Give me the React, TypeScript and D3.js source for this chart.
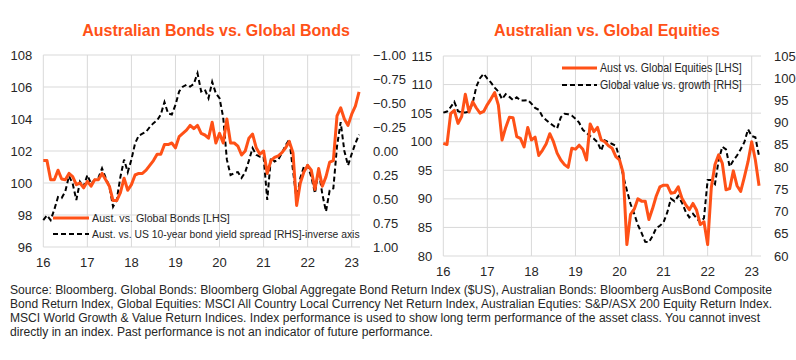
import React, { useLayoutEffect, useRef, useState } from 'react';
import * as d3 from 'd3';

// month index 0 = Jan 2016, last point = Mar 2023
const yearLabels = ['16', '17', '18', '19', '20', '21', '22', '23'];

const ausVsGlobalBonds = [
    101.4, 101.4, 100.2, 100.2, 100.8, 100.25, 100.2, 100.6, 100.4, 99.9, 100.0, 99.7,
    100.1, 99.8, 100.2, 100.2, 100.6, 100.2, 99.8, 98.9, 98.9, 99.4, 100.3, 99.55,
    99.9, 100.5, 100.6, 100.6, 100.8, 101.1, 101.4, 101.8, 101.8, 102.4, 102.4, 102.5,
    102.2, 102.9, 103.1, 103.3, 103.6, 103.4, 103.6, 103.1, 103.0, 102.8, 103.8, 102.5,
    103.1, 102.5, 104.0, 102.5, 102.5, 102.3, 101.75, 102.0, 102.8, 103.06, 102.2, 101.8,
    102.0, 100.6, 101.4, 101.6, 101.7, 101.9, 102.2, 102.6, 101.9, 98.6, 100.0, 100.7,
    101.1, 100.8, 99.6, 100.9, 99.8, 100.4, 101.3, 101.4, 104.2, 104.7, 104.0, 103.6,
    104.3, 104.8, 105.7,
];

// RHS, inverse axis
const yieldSpread = [
    0.72, 0.67, 0.72, 0.61, 0.48, 0.49, 0.42, 0.26, 0.34, 0.51, 0.32, 0.37,
    0.25, 0.34, 0.30, 0.28, 0.18, 0.28, 0.37, 0.58, 0.51, 0.27, 0.09, 0.22,
    0.09, -0.08, -0.16, -0.18, -0.20, -0.25, -0.29, -0.32, -0.38, -0.51, -0.39, -0.38,
    -0.48, -0.62, -0.67, -0.69, -0.67, -0.70, -0.81, -0.62, -0.64, -0.55, -0.72, -0.60,
    -0.55, -0.35, 0.09, 0.25, 0.23, 0.22, 0.28, 0.22, 0.10, -0.03, 0.04, 0.06,
    0.06, 0.51, 0.07, 0.11, 0.09, 0.02, -0.06, -0.12, 0.20, 0.51, 0.28, 0.16,
    0.15, 0.27, 0.44, 0.20, 0.45, 0.63, 0.41, 0.39, -0.05, -0.30, 0.0, 0.15,
    0.03, -0.08, -0.17,
];

const ausVsGlobalEquities = [
    99.7, 99.5, 104.9, 105.5, 103.2, 104.4, 108.3, 105.2, 107.0, 105.9, 105.0, 105.3,
    106.5, 107.5, 108.6, 106.4, 100.3, 102.5, 104.3, 104.2, 100.9, 100.6, 99.1, 102.5,
    100.3, 100.8, 97.6, 98.5, 99.6, 101.4, 100.0, 98.0, 96.8, 96.0, 95.5, 98.85,
    98.7, 99.4, 98.7, 96.8, 103.1, 101.75, 102.5, 100.3, 100.0, 99.3, 98.85, 97.4,
    96.8, 94.5, 82.0, 87.3, 88.2, 90.0, 89.6, 89.6, 86.4, 88.3, 90.5, 92.1,
    92.4, 92.4, 91.0, 91.1, 92.1, 90.1, 89.0, 88.1, 89.2, 88.0, 85.5, 86.0,
    82.0, 92.0, 96.0, 97.7, 96.2, 91.6, 91.8, 94.9, 92.3, 91.3, 93.8, 96.5,
    100.0, 96.8, 92.3,
];

const valueVsGrowth = [
    92.25, 92.5, 93.5, 94.7, 92.6, 92.3, 92.3, 92.5, 94.4, 98.1, 100.0, 101.0,
    99.9, 99.0, 97.9, 97.0, 95.3, 96.4, 95.8, 95.1, 95.7, 95.0, 95.0, 95.1,
    94.3, 93.3, 92.9, 91.4, 90.6, 89.9, 89.3, 88.7, 91.2, 92.0, 91.9, 91.6,
    90.9, 90.0, 88.4, 87.7, 87.0, 86.4, 85.6, 83.7, 86.0, 85.6, 85.2, 84.8,
    82.0, 78.0, 74.8, 71.7, 69.5, 67.0, 65.2, 63.2, 63.1, 64.5, 66.3, 66.8,
    67.6, 69.8, 72.9, 72.3, 73.5, 72.0, 70.0, 68.7, 69.5, 68.5, 67.5, 68.5,
    77.1, 77.1, 76.2, 81.6, 84.6, 84.0, 80.1, 81.5, 82.6, 84.0, 85.6, 88.5,
    87.0, 86.7, 82.5,
];

const bondsLhsTicks = [96, 98, 100, 102, 104, 106, 108];
const bondsRhsTicks = [-1, -0.75, -0.5, -0.25, 0, 0.25, 0.5, 0.75, 1];
const equitiesLhsTicks = [80, 85, 90, 95, 100, 105, 110, 115];
const equitiesRhsTicks = [60, 65, 70, 75, 80, 85, 90, 95, 100, 105];

const footnote = [
    'Source: Bloomberg. Global Bonds: Bloomberg Global Aggregate Bond Return Index ($US), Australian Bonds: Bloomberg AusBond Composite',
    'Bond Return Index, Global Equities: MSCI All Country Local Currency Net Return Index, Australian Equties: S&P/ASX 200 Equity Return Index.',
    'MSCI World Growth & Value Return Indices. Index performance is used to show long term performance of the asset class. You cannot invest',
    'directly in an index. Past performance is not an indicator of future performance.',
];
const footnoteWidths = [762, 762, 750, 423];

const ORANGE = '#FF5117';
const GRID = '#D9D9D9';
const TEXT = '#262626';
const FONT = 'Arial, "Liberation Sans", sans-serif';

// text squeezed horizontally to a given width (narrow font look)
function FitText({ x, y, width, size, children }) {
    const ref = useRef(null);
    const [sx, setSx] = useState(1);
    useLayoutEffect(() => {
        const len = ref.current.getComputedTextLength();
        if (len > 0) setSx(width / len);
    }, [width, children]);
    return (
        <text ref={ref} transform={`translate(${x},${y}) scale(${sx},1)`} dy="0.35em"
            fontFamily={FONT} fontSize={size} fill={TEXT}>{children}</text>
    );
}

function Panel(props) {
    const {
        title, titleX, left, right, top, bottom, xLabelY,
        lhsDomain, rhsDomain, lhsTicks, rhsTicks, rhsFormat,
        lhs, rhs, legend,
    } = props;

    const x = d3.scaleLinear().domain([0, 84]).range([left, left + 308.4]);
    const yl = d3.scaleLinear().domain(lhsDomain).range([bottom, top]);
    const yr = d3.scaleLinear().domain(rhsDomain).range([bottom, top]);

    const lineL = d3.line<number>().x((d, i) => x(i)).y(d => yl(d));
    const lineR = d3.line<number>().x((d, i) => x(i)).y(d => yr(d));

    return (
        <g>
            <text x={titleX} y={36} textAnchor="middle" fontFamily={FONT}
                fontWeight="bold" fontSize={16} fill={ORANGE}>{title}</text>
            {lhsTicks.map(t => (
                <g key={'h' + t}>
                    <line x1={left} x2={right} y1={yl(t)} y2={yl(t)} stroke={GRID} />
                    <text x={left - 11} y={yl(t)} dy="0.35em" textAnchor="end"
                        fontFamily={FONT} fontSize={13} fill={TEXT}>{t}</text>
                </g>
            ))}
            {yearLabels.map((lab, i) => (
                <g key={'v' + lab}>
                    <line x1={x(i * 12)} x2={x(i * 12)} y1={top} y2={bottom} stroke={GRID} />
                    <text x={x(i * 12)} y={xLabelY} textAnchor="middle"
                        fontFamily={FONT} fontSize={13} fill={TEXT}>{lab}</text>
                </g>
            ))}
            {rhsTicks.map(t => (
                <text key={'r' + t} x={right + 13} y={yr(t)} dy="0.35em"
                    fontFamily={FONT} fontSize={13} fill={TEXT}>{rhsFormat(t)}</text>
            ))}
            <path d={lineR(rhs)} fill="none" stroke="#000" strokeWidth={2}
                strokeDasharray="5,3" />
            <path d={lineL(lhs)} fill="none" stroke={ORANGE} strokeWidth={3}
                strokeLinejoin="round" />
            {legend.map((l, i) => (
                <g key={'l' + i}>
                    <line x1={l.x1} x2={l.x2} y1={l.y} y2={l.y}
                        stroke={l.dashed ? '#000' : ORANGE}
                        strokeWidth={l.dashed ? 2 : 3}
                        strokeDasharray={l.dashed ? '5,3' : null} />
                    <FitText x={l.x2 + 3} y={l.y} width={l.w} size={l.size || 12}>
                        {l.label}
                    </FitText>
                </g>
            ))}
        </g>
    );
}

export default function App() {
    return (
        <svg width={796} height={360}
            style={{ position: 'absolute', left: 0, top: 0, background: '#fff' }}>
            <Panel
                title="Australian Bonds vs. Global Bonds" titleX={216}
                left={43.3} right={360} top={55} bottom={247} xLabelY={267}
                lhsDomain={[96, 108]} rhsDomain={[1, -1]}
                lhsTicks={bondsLhsTicks} rhsTicks={bondsRhsTicks}
                rhsFormat={d3.format('.2f')}
                lhs={ausVsGlobalBonds} rhs={yieldSpread}
                legend={[
                    { x1: 53, x2: 89, y: 218, label: 'Aust. vs. Global Bonds [LHS]', w: 138, size: 11.5 },
                    { x1: 53, x2: 89, y: 234, label: 'Aust. vs. US 10-year bond yield spread [RHS]-inverse axis', dashed: true, w: 268, size: 11.5 },
                ]}
            />
            <Panel
                title="Australian vs. Global Equities" titleX={607}
                left={443.3} right={761} top={56} bottom={256} xLabelY={276}
                lhsDomain={[80, 115]} rhsDomain={[60, 105]}
                lhsTicks={equitiesLhsTicks} rhsTicks={equitiesRhsTicks}
                rhsFormat={d3.format('d')}
                lhs={ausVsGlobalEquities} rhs={valueVsGrowth}
                legend={[
                    { x1: 562, x2: 597, y: 68, label: 'Aust vs. Global Equities [LHS]', w: 142 },
                    { x1: 562, x2: 597, y: 85, label: 'Global value vs. growth [RHS]', dashed: true, w: 142 },
                ]}
            />
            {footnote.map((t, i) => (
                <text key={i} x={10} y={294 + i * 14} fontFamily={FONT} fontSize={12}
                    fill={TEXT} textLength={footnoteWidths[i]}
                    lengthAdjust="spacingAndGlyphs">{t}</text>
            ))}
        </svg>
    );
}
